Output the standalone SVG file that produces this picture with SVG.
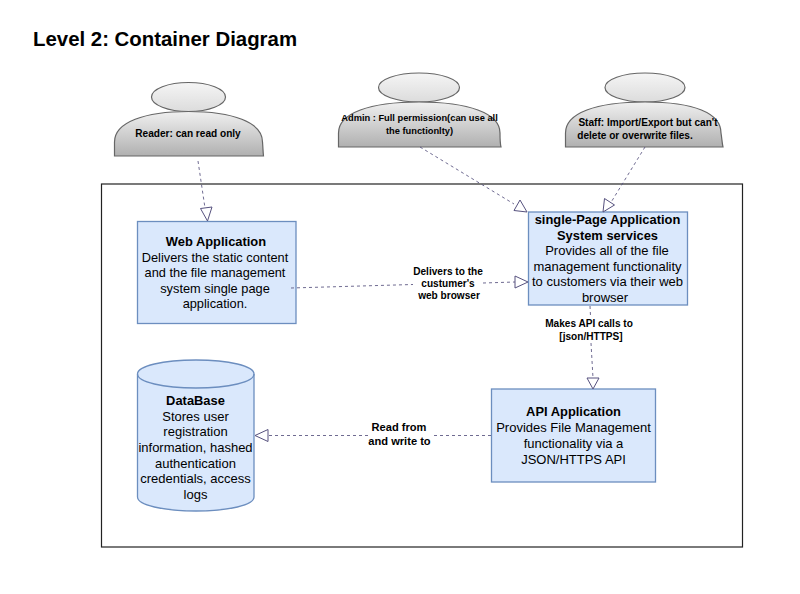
<svg xmlns="http://www.w3.org/2000/svg" width="800" height="594" viewBox="0 0 800 594">
<style>
text{font-family:"Liberation Sans",Arial,sans-serif;text-anchor:middle;fill:#000}
.t{font-size:20.400px;font-weight:bold;text-anchor:start}
.n{font-size:13px}
.w{font-size:12.800px}
.b{font-size:12.900px;font-weight:bold}
.l{font-size:10.100px;font-weight:bold}
.r{font-size:11.100px;font-weight:bold}
.m{font-size:9.300px;font-weight:bold}
.box{fill:#dae8fc;stroke:#6c8ebf;stroke-width:1.300}
.p{stroke:#666;stroke-width:1.200}
.h{fill:url(#hg)}
.s{fill:url(#sg)}
.c{fill:none;stroke:#56517e;stroke-width:1;stroke-dasharray:3 3;stroke-opacity:.85}
.a{fill:#fff;stroke:#56517e;stroke-width:1}
</style>
<defs>
<linearGradient id="hg" x1="0" y1="0" x2="0" y2="1"><stop offset="0" stop-color="#f5f5f5"/><stop offset="1" stop-color="#dcdcdc"/></linearGradient>
<linearGradient id="sg" x1="0" y1="0" x2="0" y2="1"><stop offset="0" stop-color="#f0f0f0"/><stop offset="1" stop-color="#b0b0b0"/></linearGradient>
</defs>
<rect width="800" height="594" fill="#fff"/>
<text class="t" x="33" y="46">Level 2: Container Diagram</text>
<g id="boundary"><rect x="101.500" y="184" width="641" height="363" fill="none" stroke="#222" stroke-width="1.200"/></g>
<g id="reader">
<ellipse class="p h" cx="188.500" cy="97" rx="37" ry="14.500"/>
<path class="p s" d="M114.500 156V142C114.500 122 145 111.500 188.500 111.500S262.500 122 262.500 142C263 148 263 152 263.500 156Z"/>
<text class="l" x="188" y="136.500">Reader: can read only</text>
</g>
<g id="admin">
<ellipse class="p h" cx="419" cy="87.500" rx="40.500" ry="14.500"/>
<path class="p s" d="M338.500 147V133C338.500 113 370 102 419 102S500 113 500 133C500 139 500 143 501 147Z"/>
<text class="m" x="419.500" y="121">Admin : Full permission(can use all</text>
<text class="m" x="419.500" y="134">the functionlty)</text>
</g>
<g id="staff">
<ellipse class="p h" cx="645" cy="87.500" rx="40" ry="14.500"/>
<path class="p s" d="M565.500 147V133C565.500 113 596 102 645 102S721 113 721 133C722 139 722 143 723 147Z"/>
<text class="l" x="648" y="126">Staff: Import/Export but can't</text>
<text class="l" x="635" y="139">delete or overwrite files.</text>
</g>
<g id="webapp">
<rect class="box" x="137.500" y="221.500" width="158.500" height="102"/>
<text class="b" x="216" y="246">Web Application</text>
<text class="w" x="215" y="262">Delivers the static content</text>
<text class="w" x="215" y="277">and the file management</text>
<text class="w" x="215" y="293">system single page</text>
<text class="w" x="215" y="308">application.</text>
</g>
<g id="spa">
<rect class="box" x="528.500" y="212" width="159" height="93"/>
<text class="b" x="607.500" y="224">single-Page Application</text>
<text class="b" x="607.500" y="240">System services</text>
<text class="n" x="607" y="255">Provides all of the file</text>
<text class="n" x="607.500" y="271">management functionality</text>
<text class="n" x="607.500" y="286">to customers via their web</text>
<text class="n" x="605" y="302">browser</text>
</g>
<g id="api">
<rect class="box" x="491.500" y="389" width="164" height="93"/>
<text class="b" x="573.500" y="416">API Application</text>
<text class="n" x="573.500" y="432">Provides File Management</text>
<text class="n" x="573.500" y="448">functionality via a</text>
<text class="n" x="573.500" y="464">JSON/HTTPS API</text>
</g>
<g id="database">
<path class="box" d="M137.500 374C137.500 366 163 360 196 360S254 366 254 374V497C254 505 229 511 196 511S137.500 505 137.500 497Z"/>
<path fill="none" stroke="#6c8ebf" stroke-width="1.300" d="M137.500 374C137.500 382 163 388 196 388S254 382 254 374"/>
<text class="b" x="195.500" y="405">DataBase</text>
<text class="n" x="195.500" y="421">Stores user</text>
<text class="n" x="195.500" y="436">registration</text>
<text class="n" x="195.500" y="452">information, hashed</text>
<text class="n" x="195.500" y="468">authentication</text>
<text class="n" x="195.500" y="483">credentials, access</text>
<text class="n" x="195.500" y="499">logs</text>
</g>
<g id="connectors">
<path class="c" d="M198 161L205 208"/>
<path class="a" d="M207.500 221L200.500 208.500L212 207Z"/>
<path class="c" d="M420 147L514 204"/>
<path class="a" d="M527 212L514 210.500L520 200Z"/>
<path class="c" d="M645 147L610 204"/>
<path class="a" d="M603 212L604.500 198.500L614.500 205Z"/>
<path class="c" d="M291 288L413 284.500M483 283L515 282"/>
<path class="a" d="M528 282L515 288V276Z"/>
<path class="c" d="M590 306L590.500 316M591 343L593 378"/>
<path class="a" d="M593 389L587 378H599Z"/>
<path class="c" d="M491 435.500H432M368 435.500H268"/>
<path class="a" d="M255 435.500L268 429.500V441.500Z"/>
</g>
<g id="labels">
<text class="l" x="448" y="275">Delivers to the</text>
<text class="l" x="448" y="287">custumer's</text>
<text class="l" x="449" y="299">web browser</text>
<text class="l" x="589" y="327">Makes API calls to</text>
<text class="l" x="591" y="340">[json/HTTPS]</text>
<text class="r" x="399" y="431">Read from</text>
<text class="r" x="399.500" y="445">and write to</text>
</g>
</svg>
